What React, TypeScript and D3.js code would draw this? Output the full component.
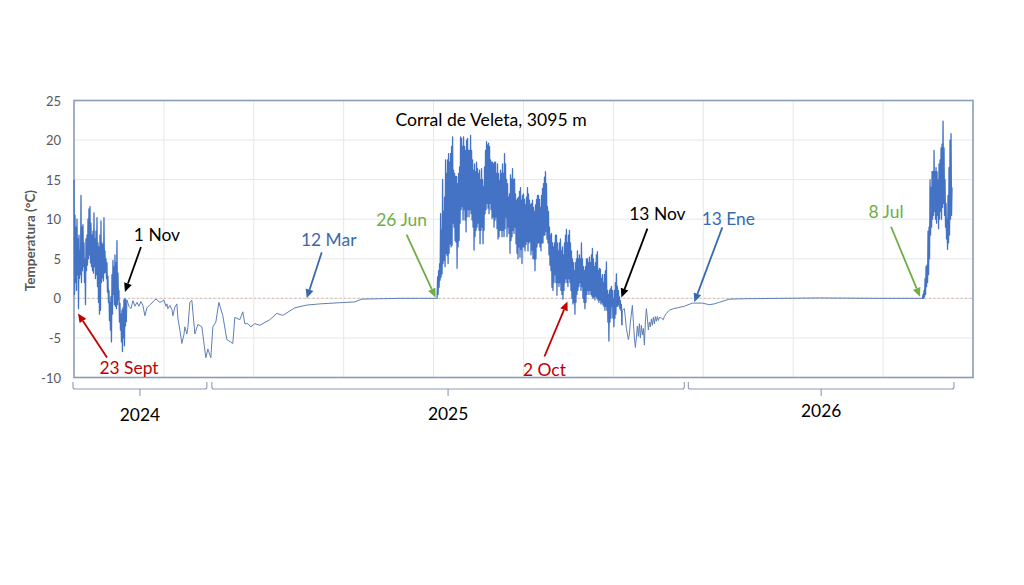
import * as d3 from 'd3';
import React, { useEffect, useRef } from 'react';

const WIDTH = 1024;
const HEIGHT = 585;

// x axis is just the record number, the sheet has no labelled dates on it
const gridStep = 90;
const recordMax = 900;
const tempTicks = [-10, -5, 0, 5, 10, 15, 20, 25];

// dense stretches: two readings per record
const autumn2024Start = 0;
const autumn2024 = [
  15, 0.5, 10.5, 2, 9, 1, 10, 3, 7.5, -1.3, 8, 2.5, 6, 3, 13, 2, 9, 3.5, 9.3, 4,
  7, 2, 5, -0.8, 7.5, 3.5, 8, 4.2, 10, 5, 11.3, 5.5, 11.6, 4.5, 9.5, 4, 8, 3.5, 8.5, 3.2,
  10.8, 4, 7.5, 2.5, 8.5, 3, 10.2, 1.5, 7, -0.5, 6.5, -2, 8, -1.5, 9.8, 2, 7, 2.6, 6.8, 2.2,
  10.2, 3.2, 6, 3.3, 5, 2.5, 4.5, 0.8, 2.8, -0.5, 1, -2.8, -0.5, -4, 0.2, -5.5, 3, -2, 4.8, 0.5,
  4, -0.8, 5.5, -1, 4.5, -1.3, 7.3, -0.8, 3.2, -0.2, 1, -3, -0.6, -4, -2, -5.5, -1.5, -6.7, -1.2, -5,
  -0.2, -6, 0, -3.5, -0.2, -3,
];

const summer2025Start = 363;
const summer2025 = [
  0, 0, 2.7, 0.5, 3.5, 1.4, 4.4, 2.3, 10.7, 2.7, 8.6, 3.1, 15, 4.4, 11, 4.8, 12.8, 4, 17.5, 5.7,
  15.8, 5.4, 17.5, 4.4, 18.3, 5.7, 17.2, 6.9, 18.3, 6.5, 19.2, 6.7, 20.4, 9.5, 16.2, 9, 15.8, 7.3, 15.4, 7.1,
  15.4, 3.8, 14.5, 6.5, 15.8, 7.3, 16.6, 9.5, 20.4, 11.2, 20.2, 11.6, 19.2, 9.9, 20.4, 11.2, 19.2, 9.9, 18.7, 8.4,
  20, 10.3, 20.2, 11.2, 18.7, 10.3, 18.7, 11.2, 20.6, 10.7, 18.7, 9.9, 17.5, 9, 16.2, 6.1, 17, 7.8, 16, 8.6,
  17.2, 9, 16.4, 9.5, 15.8, 8.6, 16.2, 6.9, 15, 8.6, 16.4, 9, 15, 6.9, 14.1, 8.6, 16.6, 10.7, 18.7, 11.2,
  19.8, 12, 19.4, 11.4, 19.6, 10.7, 19.2, 12, 17.5, 11.2, 17.2, 10.1, 17.2, 10.3, 17, 9, 17.2, 9.9, 17.2, 10.3,
  15.8, 8.8, 17, 7.5, 15.8, 7.8, 14.9, 8.6, 16.2, 8.6, 15.8, 7.8, 17, 8.6, 15.8, 7.8, 18.3, 8.8, 17, 10.3,
  15, 7.8, 14.5, 9, 12.8, 8.2, 13.2, 5.7, 15.6, 7.3, 15.1, 7.8, 16.4, 8.6, 15, 8.2, 15.1, 9, 13.2, 6.9,
  12.4, 5.7, 12.6, 5, 12.8, 6.5, 13.5, 5.2, 14, 6.2, 12.4, 4.4, 13, 6.5, 13.2, 6.5, 12.5, 6, 11.8, 6.8,
  12.8, 7.2, 14, 6, 13.2, 7, 12.4, 7.2, 11.8, 5.5, 12, 6.1, 12.4, 5, 11.5, 5, 11, 3.5, 11.8, 5,
  12.5, 6.5, 13, 7, 13, 7, 12.5, 6.5, 11.5, 6, 13, 7, 13.9, 7, 14.5, 8, 15.3, 8, 16, 8.5,
  14.5, 7.5, 11.6, 7, 11, 5.5, 9, 4.2, 8, 3.5, 8.2, 1.4, 7, 1, 6.5, 2, 7, 3, 8, 2,
  8, 0.4, 7, 2, 6, 1.5, 7, 2, 7.5, 1, 6, 0.5, 6.5, -0.1, 5.5, 1, 7, 2, 8, 2.5,
  8.7, 2, 7, 1.5, 8, 2.5, 8.6, 2, 7, 1, 6, 0, 5, -0.7, 4.5, -0.5, 3.5, -2, 4.5, -0.5,
  5, 0.5, 6, 1, 5, 1.5, 5.5, 2, 5, 1, 7, 1.5, 5, 0, 4, -0.5, 3.5, -1.3, 4, -0.5,
  5, 0.5, 5, 1, 4.5, 0.5, 5.2, 1, 4.5, 0.5, 5.5, 0.3, 6.3, 0, 5, 0.2, 4, -0.2, 4.5, 0.3,
  5.5, 0, 5.9, -0.2, 3.5, -0.5, 3.8, -0.2, 3.7, -0.7, 2.5, -0.5, 3, -0.8, 2, -1, 3, -1.5, 3.5, -1,
  4.6, -1.5, 1, -3, 0.5, -5.4, 1, -3, 1.2, -2.5, 1.5, -1, 1, -2.5, 0, -3.6, 1, -2.5, 2, -2,
  3.1, -1, 1.5, -1, 1, -0.8, 0.2, -1.3, -0.3, -1.5, -0.8, -3.4,
];

const summer2026Start = 849;
const summer2026 = [
  0, 0, 0.5, 0, 1, 0.2, 2.5, 0.5, 4, 1.5, 4.2, 2, 8.5, 3, 9, 5, 15, 8, 14, 9,
  16, 10, 16, 10.5, 18.7, 11, 16, 10, 16.5, 9.5, 16, 10.5, 15, 8.8, 17, 10, 17.5, 11, 19, 10,
  19.5, 11.5, 22.4, 12, 19, 10.5, 15, 9, 12, 7.5, 10, 6.2, 13, 7, 16.5, 8, 20, 10, 20.8, 10.5,
  14,
];

// quiet stretches, one reading at each record listed
const winter2024Records = [
  53, 55, 57, 59, 61, 63, 65, 67, 69, 71, 73, 76, 78, 80, 82, 84, 86, 88, 90, 92,
  93, 94, 96, 98, 99, 101, 103, 104, 106, 108, 110, 111, 113, 114, 116, 118, 121, 124, 128, 132,
  134, 137, 139, 142, 145, 149, 153, 159, 161, 166, 169, 171, 174, 177, 181, 186, 196, 203, 209, 221,
  233, 246, 266, 281, 288, 306, 326, 346, 362,
];
const winter2024Temps = [
  -0.2, -1, -1.3, -0.3, -1, -0.5, -1, -0.4, -0.9, -2.2, -1.2, -0.8, -0.6, -0.3, -0.1, -0.3, -0.5, -0.4, -0.2, -1,
  -0.7, -1.3, -0.9, -1.4, -2.2, -1.1, -0.7, -2.5, -4, -5.7, -4.6, -3.6, -4.5, -3.7, -0.5, -0.25, -4.5, -3.3, -3.6, -7.5,
  -6.4, -7.5, -3.6, -3, -0.5, -2.2, -5.2, -5.7, -2.4, -2.7, -1.7, -3.2, -3.2, -3.6, -3.2, -3.4, -2.7, -1.9, -2.15, -1.2,
  -0.85, -0.7, -0.55, -0.45, -0.1, -0.05, 0, 0, 0,
];

const winter2025Records = [
  549, 551, 552, 553, 555, 556, 557, 559, 560, 561, 562, 563, 564, 565, 566, 567, 568, 569, 570, 571,
  572, 573, 574, 575, 576, 577, 578, 579, 580, 581, 582, 583, 584, 585, 586, 588, 590, 591, 593, 596,
  600, 604, 611, 619, 629, 636, 641, 646, 656, 671, 706, 746, 806, 848,
];
const winter2025Temps = [
  -1.5, -1.3, -2.5, -3.8, -5.2, -4.5, -3, -0.9, -3, -5, -6.2, -5, -3.5, -4.8, -3.2, -5, -3.4, -4.6, -3.8, -5.9,
  -3, -1.3, -2.5, -4, -3, -3.6, -2.6, -3.4, -2.4, -3.2, -2.3, -2.9, -2.3, -2.8, -2.4, -2.5, -2.7, -2.3, -1.9, -1.5,
  -1.3, -1.2, -1, -0.6, -0.6, -0.8, -0.7, -0.5, -0.1, -0.05, 0, 0.05, 0, 0,
];

const yearLabels = ['2024', '2025', '2026'];
const yearFirstRecord = [-1, 138, 615];
const yearLastRecord = [133, 611, 881];

// each note points at one record/temperature, tail and text are offset from the tip in px
const notes = [
  { label: '23 Sept', record: 4, temp: -1.9, color: '#c00000', tail: [29, 44], text: [51, 54] },
  { label: '1 Nov', record: 51, temp: 0.8, color: '#000000', tail: [16, -45], text: [32, -58] },
  { label: '12 Mar', record: 233, temp: 0, color: '#3a69ae', tail: [15, -46], text: [22, -59] },
  { label: '26 Jun', record: 362, temp: 0.1, color: '#70ad47', tail: [-29, -63], text: [-34, -78] },
  { label: '2 Oct', record: 494, temp: -0.4, color: '#c00000', tail: [-23, 55], text: [-23, 68] },
  { label: '13 Nov', record: 548, temp: 0.1, color: '#000000', tail: [26, -69], text: [36, -84] },
  { label: '13 Ene', record: 621, temp: -0.5, color: '#3a69ae', tail: [28, -75], text: [34, -84] },
  { label: '8 Jul', record: 847, temp: 0.2, color: '#70ad47', tail: [-29, -70], text: [-34, -85] },
];

const lineColor = '#4472c4';
const quietColor = '#5f7fb6';
const frameColor = '#8c9cb6';
const gridColor = '#e4e7ec';

const App: React.FC = () => {
  const ref = useRef<SVGSVGElement | null>(null);

  useEffect(() => {
    const svg = d3.select(ref.current);
    svg.selectAll('*').remove();

    const x = d3.scaleLinear().domain([0, recordMax]).range([74, 973]);
    const y = d3.scaleLinear().domain([-10, 25]).range([377.5, 100.5]);

    const dense = (start: number, temps: number[]) =>
      temps.map((t, i) => [start + i * 0.5, t] as [number, number]);
    const quiet = (records: number[], temps: number[]) =>
      records.map((r, i) => [r, temps[i]] as [number, number]);

    const stretch1 = dense(autumn2024Start, autumn2024);
    const stretch2 = quiet(winter2024Records, winter2024Temps);
    const stretch3 = dense(summer2025Start, summer2025);
    const stretch4 = quiet(winter2025Records, winter2025Temps);
    const stretch5 = dense(summer2026Start, summer2026);

    // Grid
    svg
      .append('g')
      .selectAll('line')
      .data(tempTicks.slice(1, -1))
      .join('line')
      .attr('x1', x(0))
      .attr('x2', x(recordMax))
      .attr('y1', d => y(d))
      .attr('y2', d => y(d))
      .attr('stroke', gridColor);

    svg
      .append('g')
      .selectAll('line')
      .data(d3.range(gridStep, recordMax, gridStep))
      .join('line')
      .attr('x1', d => x(d))
      .attr('x2', d => x(d))
      .attr('y1', y(25))
      .attr('y2', y(-10))
      .attr('stroke', gridColor);

    // Zero line
    svg
      .append('line')
      .attr('x1', x(0))
      .attr('x2', x(recordMax))
      .attr('y1', y(0))
      .attr('y2', y(0))
      .attr('stroke', '#dcc3ae')
      .attr('stroke-width', 1.2)
      .attr('stroke-dasharray', '2 2.5');

    // Frame goes under the line, the first spike sits on top of it
    svg
      .append('rect')
      .attr('x', x(0))
      .attr('y', y(25))
      .attr('width', x(recordMax) - x(0))
      .attr('height', y(-10) - y(25))
      .attr('fill', 'none')
      .attr('stroke', frameColor)
      .attr('stroke-width', 1.6);

    // Temperature line, quiet stretches look thinner in the original
    const line = d3
      .line<[number, number]>()
      .x(d => x(d[0]))
      .y(d => y(d[1]));

    const last = (pts: [number, number][]) => pts[pts.length - 1];
    const first = (pts: [number, number][]) => pts[0];

    svg
      .append('path')
      .attr('d', line([last(stretch1), ...stretch2, first(stretch3)]))
      .attr('fill', 'none')
      .attr('stroke', quietColor)
      .attr('stroke-width', 1);
    svg
      .append('path')
      .attr('d', line([last(stretch3), ...stretch4, first(stretch5)]))
      .attr('fill', 'none')
      .attr('stroke', quietColor)
      .attr('stroke-width', 1);

    [stretch1, stretch3, stretch5].forEach(pts => {
      svg
        .append('path')
        .attr('d', line(pts))
        .attr('fill', 'none')
        .attr('stroke', lineColor)
        .attr('stroke-width', 1.3)
        .attr('stroke-linejoin', 'round');
    });

    // Y axis labels
    svg
      .append('g')
      .selectAll('text')
      .data(tempTicks)
      .join('text')
      .attr('x', 61)
      .attr('y', d => y(d))
      .attr('text-anchor', 'end')
      .attr('dominant-baseline', 'central')
      .attr('font-size', 13)
      .attr('fill', '#595959')
      .text(d => d);

    svg
      .append('text')
      .attr('transform', `translate(29.5,${y(7.3)}) rotate(-90)`)
      .attr('text-anchor', 'middle')
      .attr('dominant-baseline', 'central')
      .attr('font-size', 13.5)
      .attr('font-weight', 700)
      .attr('fill', '#595959')
      .text('Temperatura (°C)');

    svg
      .append('text')
      .attr('x', 491)
      .attr('y', 119.5)
      .attr('text-anchor', 'middle')
      .attr('dominant-baseline', 'central')
      .attr('font-size', 17.6)
      .attr('fill', '#000')
      .text('Corral de Veleta, 3095 m');

    // Year brackets under the axis
    yearLabels.forEach((year, i) => {
      const x0 = x(yearFirstRecord[i]);
      const x1 = x(yearLastRecord[i]);
      const mid = (x0 + x1) / 2;
      const top = 382;
      const low = 389;
      svg
        .append('path')
        .attr(
          'd',
          `M${x0},${top}V${low - 2}Q${x0},${low} ${x0 + 2},${low}H${x1 - 2}Q${x1},${low} ${x1},${low - 2}V${top}` +
            `M${mid},${low}V396`,
        )
        .attr('fill', 'none')
        .attr('stroke', frameColor)
        .attr('stroke-width', 1.1);
      svg
        .append('text')
        .attr('x', mid)
        .attr('y', [414, 413, 410][i])
        .attr('text-anchor', 'middle')
        .attr('dominant-baseline', 'central')
        .attr('font-size', 17.4)
        .attr('fill', '#000')
        .text(year);
    });

    // Notes with arrows
    notes.forEach(note => {
      const tipX = x(note.record);
      const tipY = y(note.temp);
      const tailX = tipX + note.tail[0];
      const tailY = tipY + note.tail[1];
      const angle = Math.atan2(tipY - tailY, tipX - tailX);
      const headLen = 9;
      const headWide = 4;
      const baseX = tipX - headLen * Math.cos(angle);
      const baseY = tipY - headLen * Math.sin(angle);

      svg
        .append('line')
        .attr('x1', tailX)
        .attr('y1', tailY)
        .attr('x2', baseX)
        .attr('y2', baseY)
        .attr('stroke', note.color)
        .attr('stroke-width', 1.8);
      svg
        .append('polygon')
        .attr(
          'points',
          [
            [tipX, tipY],
            [baseX - headWide * Math.sin(angle), baseY + headWide * Math.cos(angle)],
            [baseX + headWide * Math.sin(angle), baseY - headWide * Math.cos(angle)],
          ].join(' '),
        )
        .attr('fill', note.color);
      svg
        .append('text')
        .attr('x', tipX + note.text[0])
        .attr('y', tipY + note.text[1])
        .attr('text-anchor', 'middle')
        .attr('dominant-baseline', 'central')
        .attr('font-size', 17.4)
        .attr('fill', note.color)
        .text(note.label);
    });
  }, []);

  return (
    <svg
      ref={ref}
      width={WIDTH}
      height={HEIGHT}
      style={{ position: 'absolute', left: 0, top: 0, background: '#fff', fontFamily: 'Lato, sans-serif' }}
    />
  );
};

export default App;
